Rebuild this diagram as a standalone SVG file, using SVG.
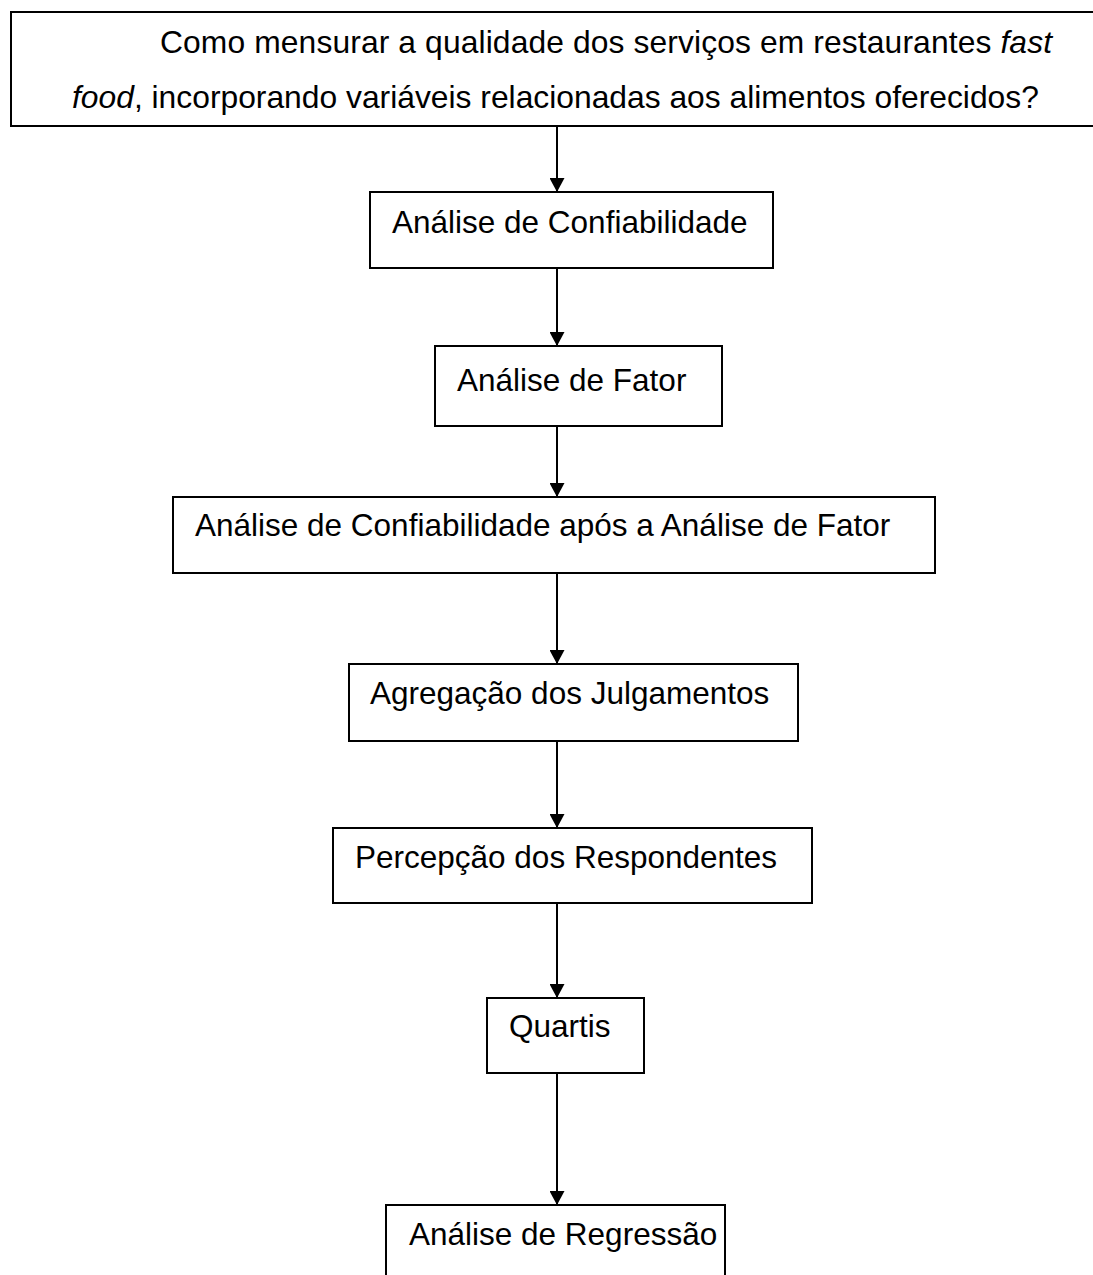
<svg xmlns="http://www.w3.org/2000/svg" width="1093" height="1275" viewBox="0 0 1093 1275">
  <style>
    .box { fill: #ffffff; stroke: #000000; stroke-width: 2; }
    .label { font-family: "Liberation Sans", Arial, sans-serif; font-size: 31.5px; fill: #000000; }
    .question { font-size: 31.8px; }
    .edge { stroke: #000000; stroke-width: 2; fill: none; marker-end: url(#arrow); }
  </style>
  <defs>
    <marker id="arrow" markerUnits="userSpaceOnUse" markerWidth="14" markerHeight="15" viewBox="0 0 14 15" refX="14" refY="7.5" orient="auto">
      <path d="M0,0 L14,7.5 L0,15 Z" fill="#000000"/>
    </marker>
  </defs>
  <rect x="0" y="0" width="1093" height="1275" fill="#ffffff"/>

  <!-- research question, first line justified with an indent -->
  <g id="question">
    <rect class="box" x="11" y="12" width="1095" height="114"/>
    <text class="label question" x="160" y="53" textLength="892" lengthAdjust="spacing">Como mensurar a qualidade dos serviços em restaurantes <tspan font-style="italic">fast</tspan></text>
    <text class="label question" x="72" y="108"><tspan font-style="italic">food</tspan>, incorporando variáveis relacionadas aos alimentos oferecidos?</text>
  </g>

  <g id="confiabilidade">
    <rect class="box" x="370" y="192" width="403" height="76"/>
    <text class="label" x="392" y="233">Análise de Confiabilidade</text>
  </g>

  <g id="fator">
    <rect class="box" x="435" y="346" width="287" height="80"/>
    <text class="label" x="457" y="391">Análise de Fator</text>
  </g>

  <g id="confiabilidade-pos-fator">
    <rect class="box" x="173" y="497" width="762" height="76"/>
    <text class="label" x="195" y="536">Análise de Confiabilidade após a Análise de Fator</text>
  </g>

  <g id="agregacao">
    <rect class="box" x="349" y="664" width="449" height="77"/>
    <text class="label" x="370" y="704">Agregação dos Julgamentos</text>
  </g>

  <g id="percepcao">
    <rect class="box" x="333" y="828" width="479" height="75"/>
    <text class="label" x="355" y="868">Percepção dos Respondentes</text>
  </g>

  <g id="quartis">
    <rect class="box" x="487" y="998" width="157" height="75"/>
    <text class="label" x="509" y="1037">Quartis</text>
  </g>

  <g id="regressao">
    <rect class="box" x="386" y="1205" width="339" height="90"/>
    <text class="label" x="409" y="1245">Análise de Regressão</text>
  </g>

  <!-- connectors -->
  <g id="connectors">
    <line class="edge" x1="557" y1="126" x2="557" y2="192"/>
    <line class="edge" x1="557" y1="268" x2="557" y2="346"/>
    <line class="edge" x1="557" y1="426" x2="557" y2="497"/>
    <line class="edge" x1="557" y1="573" x2="557" y2="664"/>
    <line class="edge" x1="557" y1="741" x2="557" y2="828"/>
    <line class="edge" x1="557" y1="903" x2="557" y2="998"/>
    <line class="edge" x1="557" y1="1073" x2="557" y2="1205"/>
  </g>
</svg>
